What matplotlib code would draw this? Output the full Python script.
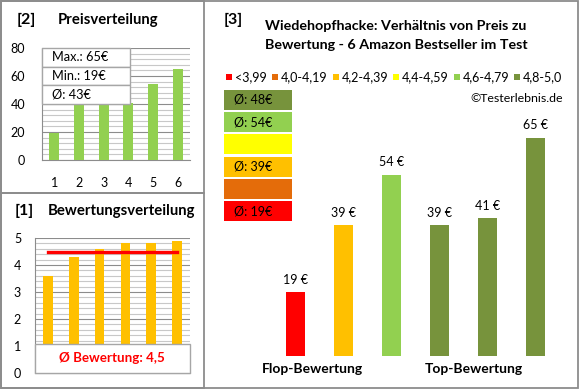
import matplotlib
matplotlib.use("Agg")
import matplotlib.pyplot as plt
from matplotlib.patches import Rectangle
from matplotlib.ticker import MultipleLocator

plt.rcParams['font.family'] = ['Lato', 'DejaVu Sans']

# Data
price_pos = [1, 2, 3, 4, 5, 6]
prices_sorted = [19, 39, 39, 41, 54, 65]
ratings_sorted = [3.6, 4.3, 4.6, 4.8, 4.8, 4.9]

main_prices = [19, 39, 54, 39, 41, 65]
main_labels = ['19 €', '39 €', '54 €', '39 €', '41 €', '65 €']
main_colors = ['#FF0000', '#FFC000', '#92D050', '#77933C', '#77933C', '#77933C']

legend_labels = ['<3,99', '4,0-4,19', '4,2-4,39', '4,4-4,59', '4,6-4,79', '4,8-5,0']
legend_colors = ['#FF0000', '#E46C0A', '#FFC000', '#FFFF00', '#92D050', '#77933C']

avg_boxes = ['Ø: 48€', 'Ø: 54€', '', 'Ø: 39€', '', 'Ø: 19€']
avg_colors = ['#77933C', '#92D050', '#FFFF00', '#FFC000', '#E46C0A', '#FF0000']

info_lines = ['Max.: 65€', 'Min.: 19€', 'Ø: 43€']
avg_rating = sum(ratings_sorted) / len(ratings_sorted)

W, H = 580, 390
fig = plt.figure(figsize=(W / 100, H / 100), dpi=100)


def box(x0, y0, x1, y1):
    return [x0 / W, 1 - y1 / H, (x1 - x0) / W, (y1 - y0) / H]


def fx(x):
    return x / W


def fy(y):
    return 1 - y / H


def frame(x0, y0, x1, y1, fc='none', ec='#8C8C8C', lw=1.3, z=0):
    fig.patches.append(Rectangle((fx(x0), fy(y1)), (x1 - x0) / W, (y1 - y0) / H,
                                 transform=fig.transFigure, fc=fc, ec=ec, lw=lw, zorder=z))


# panel frames
frame(1, 1, 578, 388)
frame(1, 1, 204, 193)
frame(1, 193, 204, 388)

grid_major = '#8C8C8C'
grid_minor = '#C8C8C8'

# [2] Preisverteilung
ax1 = fig.add_axes(box(42, 48, 190, 160))
ax1.bar(price_pos, prices_sorted, width=0.4, color='#92D050', zorder=3)
ax1.set_xlim(0.5, 6.5)
ax1.set_ylim(0, 80)
ax1.yaxis.set_major_locator(MultipleLocator(20))
ax1.yaxis.set_minor_locator(MultipleLocator(4))
ax1.grid(axis='y', which='major', color=grid_major, lw=0.8, zorder=0)
ax1.grid(axis='y', which='minor', color=grid_minor, lw=0.8, zorder=0)
ax1.set_xticks(price_pos)
for s in ['top', 'right']:
    ax1.spines[s].set_visible(False)
for s in ['left', 'bottom']:
    ax1.spines[s].set_color(grid_major)
ax1.tick_params(axis='both', which='both', length=0, labelsize=9, colors='#000000')
ax1.tick_params(axis='x', pad=12)
ax1.tick_params(axis='y', pad=12)

fig.text(fx(17), fy(20), '[2]', fontsize=11.5, fontweight='bold', va='center')
fig.text(fx(58), fy(20), 'Preisverteilung', fontsize=10.7, fontweight='bold', va='center')

# info box
row_h = 56 / 3
for i, t in enumerate(info_lines):
    frame(42, 48 + i * row_h, 130, 48 + (i + 1) * row_h, fc='white', ec='#A6A6A6', lw=1, z=5)
    fig.text(fx(52), fy(48 + (i + 0.5) * row_h), t, fontsize=9.2, va='center', zorder=6)

# [1] Bewertungsverteilung
ax2 = fig.add_axes(box(35, 238, 190, 373))
ax2.bar(price_pos, ratings_sorted, width=0.38, color='#FFC000', zorder=3)
ax2.plot([1, 6], [avg_rating, avg_rating], color='#FF0000', lw=2.4, zorder=4)
ax2.set_xlim(0.5, 6.5)
ax2.set_ylim(0, 5)
ax2.yaxis.set_major_locator(MultipleLocator(1))
ax2.yaxis.set_minor_locator(MultipleLocator(0.2))
ax2.grid(axis='y', which='major', color=grid_major, lw=0.8, zorder=0)
ax2.grid(axis='y', which='minor', color=grid_minor, lw=0.8, zorder=0)
ax2.set_xticks([])
for s in ['top', 'right']:
    ax2.spines[s].set_visible(False)
for s in ['left', 'bottom']:
    ax2.spines[s].set_color(grid_major)
ax2.tick_params(axis='both', which='both', length=0, labelsize=9)
ax2.tick_params(axis='y', pad=10)

fig.text(fx(15), fy(211), '[1]', fontsize=11.5, fontweight='bold', va='center')
fig.text(fx(48), fy(211), 'Bewertungsverteilung', fontsize=10.7, fontweight='bold', va='center')

frame(35, 344, 190, 373, fc='white', ec='#A6A6A6', lw=1, z=5)
fig.text(fx(112), fy(358), 'Ø Bewertung: ' + f'{avg_rating:.1f}'.replace('.', ','),
         fontsize=9.6, fontweight='bold', color='#FF0000', ha='center', va='center', zorder=6)

# [3] main chart
fig.text(fx(224), fy(20), '[3]', fontsize=11.5, fontweight='bold', va='center')
fig.text(fx(396), fy(26), 'Wiedehopfhacke: Verhältnis von Preis zu', fontsize=10.3,
         fontweight='bold', ha='center', va='center')
fig.text(fx(396), fy(45), 'Bewertung - 6 Amazon Bestseller im Test', fontsize=10.3,
         fontweight='bold', ha='center', va='center')

leg_x = [229, 275, 336, 396, 457, 517]
for x, lab, c in zip(leg_x, legend_labels, legend_colors):
    frame(x - 3, 74, x + 3, 80, fc=c, ec='none', lw=0, z=3)
    fig.text(fx(x + 6), fy(77), lab, fontsize=9, va='center')

fig.text(fx(563), fy(98), '©Testerlebnis.de', fontsize=8.9, ha='right', va='center')

for i, (t, c) in enumerate(zip(avg_boxes, avg_colors)):
    y0 = 90 + i * 22.2
    frame(224, y0, 292, y0 + 20, fc=c, ec='none', lw=0, z=3)
    if t:
        fig.text(fx(234), fy(y0 + 10), t, fontsize=9, va='center', zorder=4)

ax3 = fig.add_axes(box(272, 110, 559, 356))
ax3.bar(price_pos, main_prices, width=0.4, color=main_colors)
ax3.set_xlim(0.5, 6.5)
ax3.set_ylim(0, 246 / 3.354)
ax3.axis('off')
for x, v, lab in zip(price_pos, main_prices, main_labels):
    ax3.annotate(lab, (x, v), xytext=(0, 9), textcoords='offset points',
                 ha='center', va='center', fontsize=9)

fig.text(fx(312), fy(369), 'Flop-Bewertung', fontsize=10, fontweight='bold', ha='center', va='center')
fig.text(fx(474), fy(369), 'Top-Bewertung', fontsize=10, fontweight='bold', ha='center', va='center')

fig.savefig('out.png', dpi=100, facecolor='white')
